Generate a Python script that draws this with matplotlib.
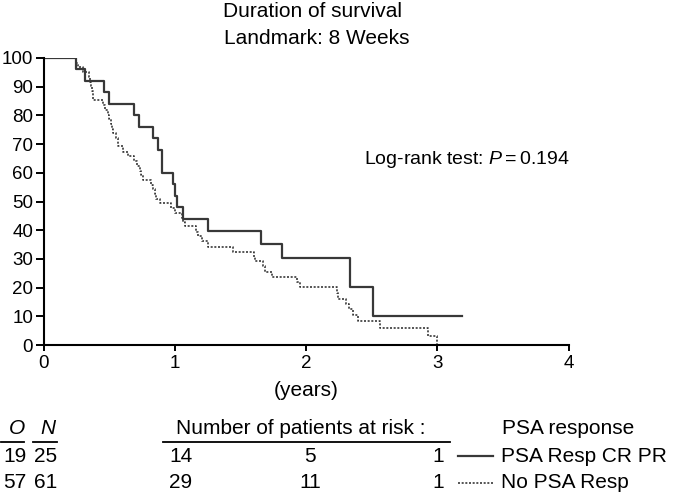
import matplotlib
matplotlib.use("Agg")
import matplotlib.pyplot as plt
from matplotlib.lines import Line2D

plt.rcParams["font.family"] = ["Liberation Sans", "DejaVu Sans"]
plt.rcParams["mathtext.fontset"] = "custom"
plt.rcParams["mathtext.rm"] = "Liberation Sans"
plt.rcParams["mathtext.it"] = "Liberation Sans:italic"

# Kaplan-Meier steps (years, % surviving)
t_resp = [0, 0.244, 0.313, 0.464, 0.497, 0.690, 0.727, 0.834, 0.872, 0.900,
          0.987, 1.005, 1.018, 1.064, 1.254, 1.654, 1.814, 2.336, 2.509, 3.19]
s_resp = [100, 96, 92, 88, 84, 80, 76, 72, 68, 60,
          56, 52, 48, 44, 39.6, 35.2, 30.2, 20.1, 10.1, 10.1]

t_none = [0, 0.249, 0.262, 0.300, 0.350, 0.357, 0.364, 0.370, 0.376, 0.452,
          0.465, 0.490, 0.500, 0.516, 0.522, 0.528, 0.550, 0.566, 0.604, 0.643,
          0.693, 0.710, 0.733, 0.745, 0.758, 0.820, 0.835, 0.848, 0.860, 0.885,
          0.975, 1.000, 1.058, 1.064, 1.080, 1.160, 1.178, 1.210, 1.254, 1.440,
          1.600, 1.611, 1.675, 1.687, 1.738, 1.929, 1.954, 2.235, 2.247, 2.306,
          2.331, 2.360, 2.395, 2.560, 2.930, 2.998]
s_none = [100, 98.4, 96.7, 95.1, 93.4, 91.8, 90.2, 88.5, 85.3, 83.6,
          82.0, 80.3, 78.7, 77.0, 75.4, 73.8, 72.1, 69.2, 67.4, 65.8,
          64.1, 62.4, 60.6, 59.1, 57.5, 55.9, 54.2, 52.6, 50.8, 49.4,
          47.7, 46.0, 44.4, 42.8, 41.3, 39.5, 37.9, 36.2, 34.2, 32.5,
          30.8, 29.1, 27.5, 25.6, 23.6, 22.0, 20.2, 18.0, 16.0, 14.2,
          12.5, 10.5, 8.4, 5.8, 3.0, 0]

x_ticks = [0, 1, 2, 3, 4]
y_ticks = list(range(0, 101, 10))

groups = ["PSA Resp CR PR", "No PSA Resp"]
observed = [19, 57]
numbers = [25, 61]
at_risk = [[14, 5, 1], [29, 11, 1]]

W, H = 678, 496
FS = 15        # titles, table
FS_TICK = 13.5
FS_TEST = 14


def fx(px):
    return px / W


def fy(py):
    return 1 - py / H


fig = plt.figure(figsize=(W / 100, H / 100), dpi=100)
ax = fig.add_axes([fx(43.5), fy(345), fx(568.5) - fx(43.5), fy(58) - fy(345)])

solid = dict(color="#383838", lw=1.6, linestyle="-")
dotted = dict(color="#383838", lw=1.2, linestyle=(0, (1.2, 1.0)))

ax.plot(t_resp, s_resp, drawstyle="steps-post", **solid)
ax.plot(t_none, s_none, drawstyle="steps-post", **dotted)

ax.set_xlim(0, 4)
ax.set_ylim(0, 100)
ax.set_xticks(x_ticks)
ax.set_yticks(y_ticks)
ax.tick_params(axis="y", direction="out", length=6, width=1.4, pad=1.5, labelsize=FS_TICK)
ax.tick_params(axis="x", direction="out", length=4, width=1.4, pad=3, labelsize=FS_TICK)
for side in ("top", "right"):
    ax.spines[side].set_visible(False)
for side in ("left", "bottom"):
    ax.spines[side].set_linewidth(1.5)
ax.set_xlabel("(years)", fontsize=FS, labelpad=7)

fig.text(fx(223), fy(17), "Duration of survival", ha="left", va="baseline", fontsize=FS)
fig.text(fx(224), fy(43.5), "Landmark: 8 Weeks", ha="left", va="baseline", fontsize=FS)
fig.text(fx(570), fy(160), "Log-rank test: $P = 0.194$",
         ha="right", va="center", fontsize=FS_TEST)

# number-at-risk table
row_y = [456, 483]
fig.text(fx(16.7), fy(428), "O", ha="center", va="center", fontsize=FS, style="italic")
fig.text(fx(48.3), fy(428), "N", ha="center", va="center", fontsize=FS, style="italic")
fig.text(fx(176), fy(428), "Number of patients at risk :", ha="left", va="center", fontsize=FS)
fig.text(fx(502), fy(428), "PSA response", ha="left", va="center", fontsize=FS)
for x0, x1 in ((1, 24), (33, 57), (163, 450)):
    fig.add_artist(Line2D([fx(x0), fx(x1)], [fy(442), fy(442)], color="black", lw=1.3))

col_x = [169, 310, 444]
col_ha = ["left", "center", "right"]
styles = [solid, dotted]
for i in range(2):
    y = fy(row_y[i])
    fig.text(fx(15), y, str(observed[i]), ha="center", va="center", fontsize=FS)
    fig.text(fx(46), y, str(numbers[i]), ha="center", va="center", fontsize=FS)
    for n, x, ha in zip(at_risk[i], col_x, col_ha):
        fig.text(fx(x), y, str(n), ha=ha, va="center", fontsize=FS)
    fig.add_artist(Line2D([fx(458), fx(493)], [y, y], **styles[i]))
    fig.text(fx(501), y, groups[i], ha="left", va="center", fontsize=FS)

fig.savefig("out.png", dpi=100)
